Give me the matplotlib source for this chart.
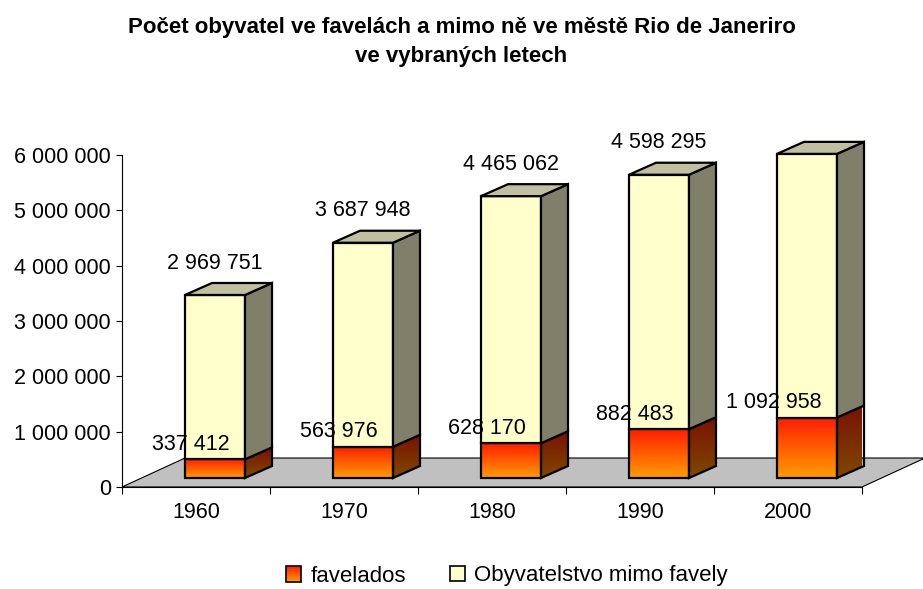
import numpy as np
import matplotlib.pyplot as plt
from matplotlib.patches import Polygon, Rectangle, Patch
from matplotlib.colors import LinearSegmentedColormap
from matplotlib.legend_handler import HandlerBase

plt.rcParams['font.family'] = ['Liberation Sans', 'DejaVu Sans']

# data
roky = ['1960', '1970', '1980', '1990', '2000']
favelados = [337412, 563976, 628170, 882483, 1092958]
mimo_favely = [2969751, 3687948, 4465062, 4598295, 4764921]
y_ticks = [0, 1000000, 2000000, 3000000, 4000000, 5000000, 6000000]
nazev = 'Počet obyvatel ve favelách a mimo ně ve městě Rio de Janeriro\nve vybraných letech'
legenda = ['favelados', 'Obyvatelstvo mimo favely']

W, H = 923, 589
fig = plt.figure(figsize=(W / 100, H / 100), dpi=100)
ax = fig.add_axes([122 / W, (H - 487) / H, 740 / W, 332 / H])
ax.set_xlim(-0.5, len(roky) - 0.5)
ax.set_ylim(0, y_ticks[-1])

# prevod pixelu na jednotky dat
sx = len(roky) / 740.0
sy = y_ticks[-1] / 332.0

grad_front = LinearSegmentedColormap.from_list('front', ['#ff9c00', '#ff1e00'])
grad_side = LinearSegmentedColormap.from_list('side', ['#7f4800', '#7a1200'])
grad = np.linspace(0, 1, 64).reshape(-1, 1)

# podlaha
x0, x1 = -0.5, len(roky) - 0.5
fd = (63 * sx, 29 * sy)
floor = Polygon([(x0, 0), (x1, 0), (x1 + fd[0], fd[1]), (x0 + fd[0], fd[1])],
                closed=True, facecolor='#c0c0c0', edgecolor='black', lw=0.8,
                clip_on=False, zorder=1)
ax.add_patch(floor)

bw = 60 * sx
dx, dy = 27 * sx, 12 * sy
off_x, off_y = 19 * sx, 9 * sy
lw = 1.6


def box(xl, yb, yt, front, side, top, zo, gradient=False):
    xr = xl + bw
    side_pts = [(xr, yb), (xr + dx, yb + dy), (xr + dx, yt + dy), (xr, yt)]
    if gradient:
        ax.imshow(grad, cmap=grad_front, aspect='auto', origin='lower',
                  extent=[xl, xr, yb, yt], zorder=zo, clip_on=False)
        ax.add_patch(Rectangle((xl, yb), bw, yt - yb, fill=False,
                               edgecolor='black', lw=lw, zorder=zo + 0.1, clip_on=False))
        sp = Polygon(side_pts, closed=True, fill=False, edgecolor='black',
                     lw=lw, zorder=zo + 0.1, clip_on=False)
        ax.add_patch(sp)
        im2 = ax.imshow(grad, cmap=grad_side, aspect='auto', origin='lower',
                        extent=[xr, xr + dx, yb, yt + dy], zorder=zo)
        im2.set_clip_path(sp)
        im2.set_clip_box(None)
    else:
        ax.add_patch(Rectangle((xl, yb), bw, yt - yb, facecolor=front,
                               edgecolor='black', lw=lw, zorder=zo, clip_on=False))
        ax.add_patch(Polygon(side_pts, closed=True, facecolor=side,
                             edgecolor='black', lw=lw, zorder=zo, clip_on=False))
    if top:
        top_pts = [(xl, yt), (xr, yt), (xr + dx, yt + dy), (xl + dx, yt + dy)]
        ax.add_patch(Polygon(top_pts, closed=True, facecolor=top,
                             edgecolor='black', lw=lw, zorder=zo, clip_on=False))


for i, (f, m) in enumerate(zip(favelados, mimo_favely)):
    xl = i + off_x - bw / 2
    yb = off_y
    box(xl, yb, yb + f, None, None, None, 2, gradient=True)
    box(xl, yb + f, yb + f + m, '#ffffcc', '#80806a', '#c0c0a0', 3)
    ax.annotate(f'{f:,}'.replace(',', ' '), xy=(i + 34 * sx, yb + f),
                xytext=(0, 15 * 0.72), textcoords='offset points',
                ha='right', va='center', fontsize=15.5, zorder=5)
    ax.annotate(f'{m:,}'.replace(',', ' '), xy=(i + off_x, yb + f + m),
                xytext=(0, 32 * 0.72), textcoords='offset points',
                ha='center', va='center', fontsize=15.5, zorder=5)

# osy
ax.set_yticks(y_ticks)
ax.set_yticklabels([f'{v:,}'.replace(',', ' ') for v in y_ticks], fontsize=15.5)
ax.tick_params(axis='y', length=4, width=0.8, pad=4)
ax.set_xticks(range(len(roky)))
ax.set_xticklabels(roky, fontsize=15.5)
ax.set_xticks(np.arange(-0.5, len(roky)), minor=True)
ax.tick_params(axis='x', which='major', length=0, pad=11)
ax.tick_params(axis='x', which='minor', length=5, width=0.8)
for s in ['top', 'right']:
    ax.spines[s].set_visible(False)
ax.spines['left'].set_linewidth(0.8)
ax.spines['bottom'].set_linewidth(0.8)
ax.spines['bottom'].set_zorder(1.5)
ax.patch.set_visible(False)

fig.text(0.5, 1 - 42 / H, nazev, ha='center', va='center', fontsize=16,
         fontweight='bold', linespacing=1.55)


class GradientHandler(HandlerBase):
    def create_artists(self, legend, orig_handle, xd, yd, width, height, fontsize, trans):
        arts = []
        n = 10
        for k in range(n):
            c = grad_front(1 - (k + 0.5) / n)
            arts.append(Rectangle((xd, yd + height * (n - 1 - k) / n), width, height / n,
                                  facecolor=c, edgecolor='none', transform=trans))
        arts.append(Rectangle((xd, yd), width, height, fill=False,
                              edgecolor='black', lw=1.2, transform=trans))
        return arts


h1 = Patch(label=legenda[0])
h2 = Patch(facecolor='#ffffcc', edgecolor='black', lw=1.2, label=legenda[1])
fig.legend([h1, h2], legenda, handler_map={h1: GradientHandler()},
           loc='center', bbox_to_anchor=(507 / W, 1 - 576 / H), ncol=2,
           frameon=False, fontsize=16, handlelength=0.68, handleheight=0.68,
           handletextpad=0.4, columnspacing=2.0)

fig.savefig('out.png', dpi=100)
